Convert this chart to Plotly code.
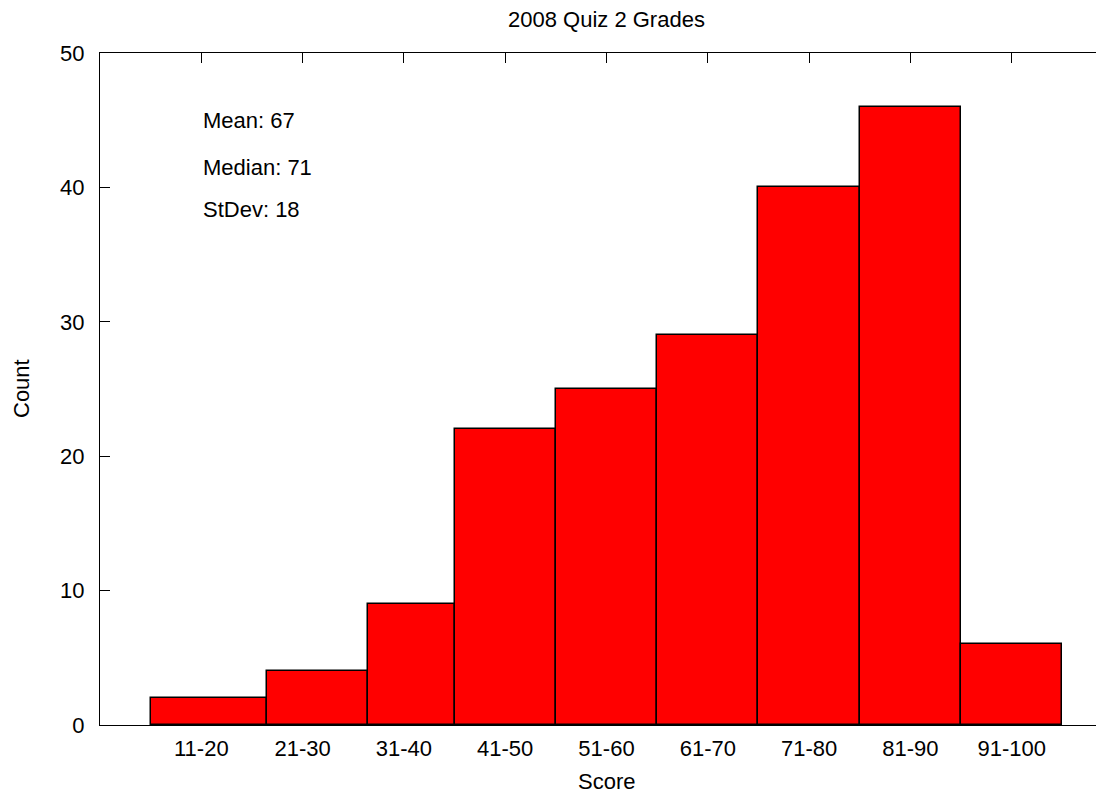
import plotly.graph_objects as go

# ---- data ----
categories = ["11-20", "21-30", "31-40", "41-50", "51-60", "61-70", "71-80", "81-90", "91-100"]
counts = [2, 4, 9, 22, 25, 29, 40, 46, 6]
tick_positions = [1, 2, 3, 4, 5, 6, 7, 8, 9]
bin_left = [0.5, 1.65, 2.65, 3.5, 4.5, 5.5, 6.5, 7.5, 8.5]
bin_right = [1.65, 2.65, 3.5, 4.5, 5.5, 6.5, 7.5, 8.5, 9.5]
stat_labels = ["Mean: 67", "Median: 71", "StDev: 18"]
stat_y = [45.0, 41.5, 38.35]
y_ticks = [0, 10, 20, 30, 40, 50]

centers = [(a + b) / 2 for a, b in zip(bin_left, bin_right)]
widths = [b - a for a, b in zip(bin_left, bin_right)]

FONT = "Liberation Sans, Arial, Helvetica, sans-serif"
FS = 22

fig = go.Figure()
fig.add_trace(go.Bar(
    x=centers, y=counts, width=widths,
    marker=dict(color="#ff0000", line=dict(color="black", width=1.5)),
    showlegend=False,
))

# page body has an 8px margin; lay out in figure coordinates accordingly
OFF = 8
W, H = 1105, 786
ml, mt, mb, mr = 92, 45, 69, 0
plot_w = W - ml - mr
plot_h = H - mt - mb

axis_common = dict(
    showgrid=False, zeroline=False, showline=True, linecolor="black", linewidth=1.3,
    ticks="inside", ticklen=10, tickwidth=1.3, tickcolor="black",
    tickfont=dict(family=FONT, size=FS, color="black"),
    layer="below traces",
)

fig.update_layout(
    width=W, height=H,
    margin=dict(l=ml, r=mr, t=mt, b=mb, pad=0),
    paper_bgcolor="white", plot_bgcolor="white",
    font=dict(family=FONT, size=FS, color="black"),
    bargap=0,
    xaxis=dict(range=[0, 10], tickvals=tick_positions, ticktext=categories,
               mirror="ticks", ticklabelstandoff=3, **axis_common),
    yaxis=dict(range=[0, 50], tickvals=y_ticks, mirror="ticks",
               ticklabelstandoff=10, **axis_common),
)


def py2paper(py_screen):
    return (H - mb - (py_screen - OFF)) / plot_h


def px2paper(px_screen):
    return ((px_screen - OFF) - ml) / plot_w


annotations = [
    dict(text="2008 Quiz 2 Grades", xref="x", yref="paper", x=5, y=py2paper(19.5),
         xanchor="center", yanchor="middle", showarrow=False),
    dict(text="Score", xref="x", yref="paper", x=5, y=py2paper(781.5),
         xanchor="center", yanchor="middle", showarrow=False),
    dict(text="Count", xref="paper", yref="paper", x=px2paper(21), y=0.5,
         xanchor="center", yanchor="middle", textangle=-90, showarrow=False),
]
for lab, yy in zip(stat_labels, stat_y):
    annotations.append(dict(text=lab, xref="x", yref="y", x=1, y=yy,
                            xanchor="left", yanchor="middle", showarrow=False))
fig.update_layout(annotations=annotations)

fig.write_html("out.html")
